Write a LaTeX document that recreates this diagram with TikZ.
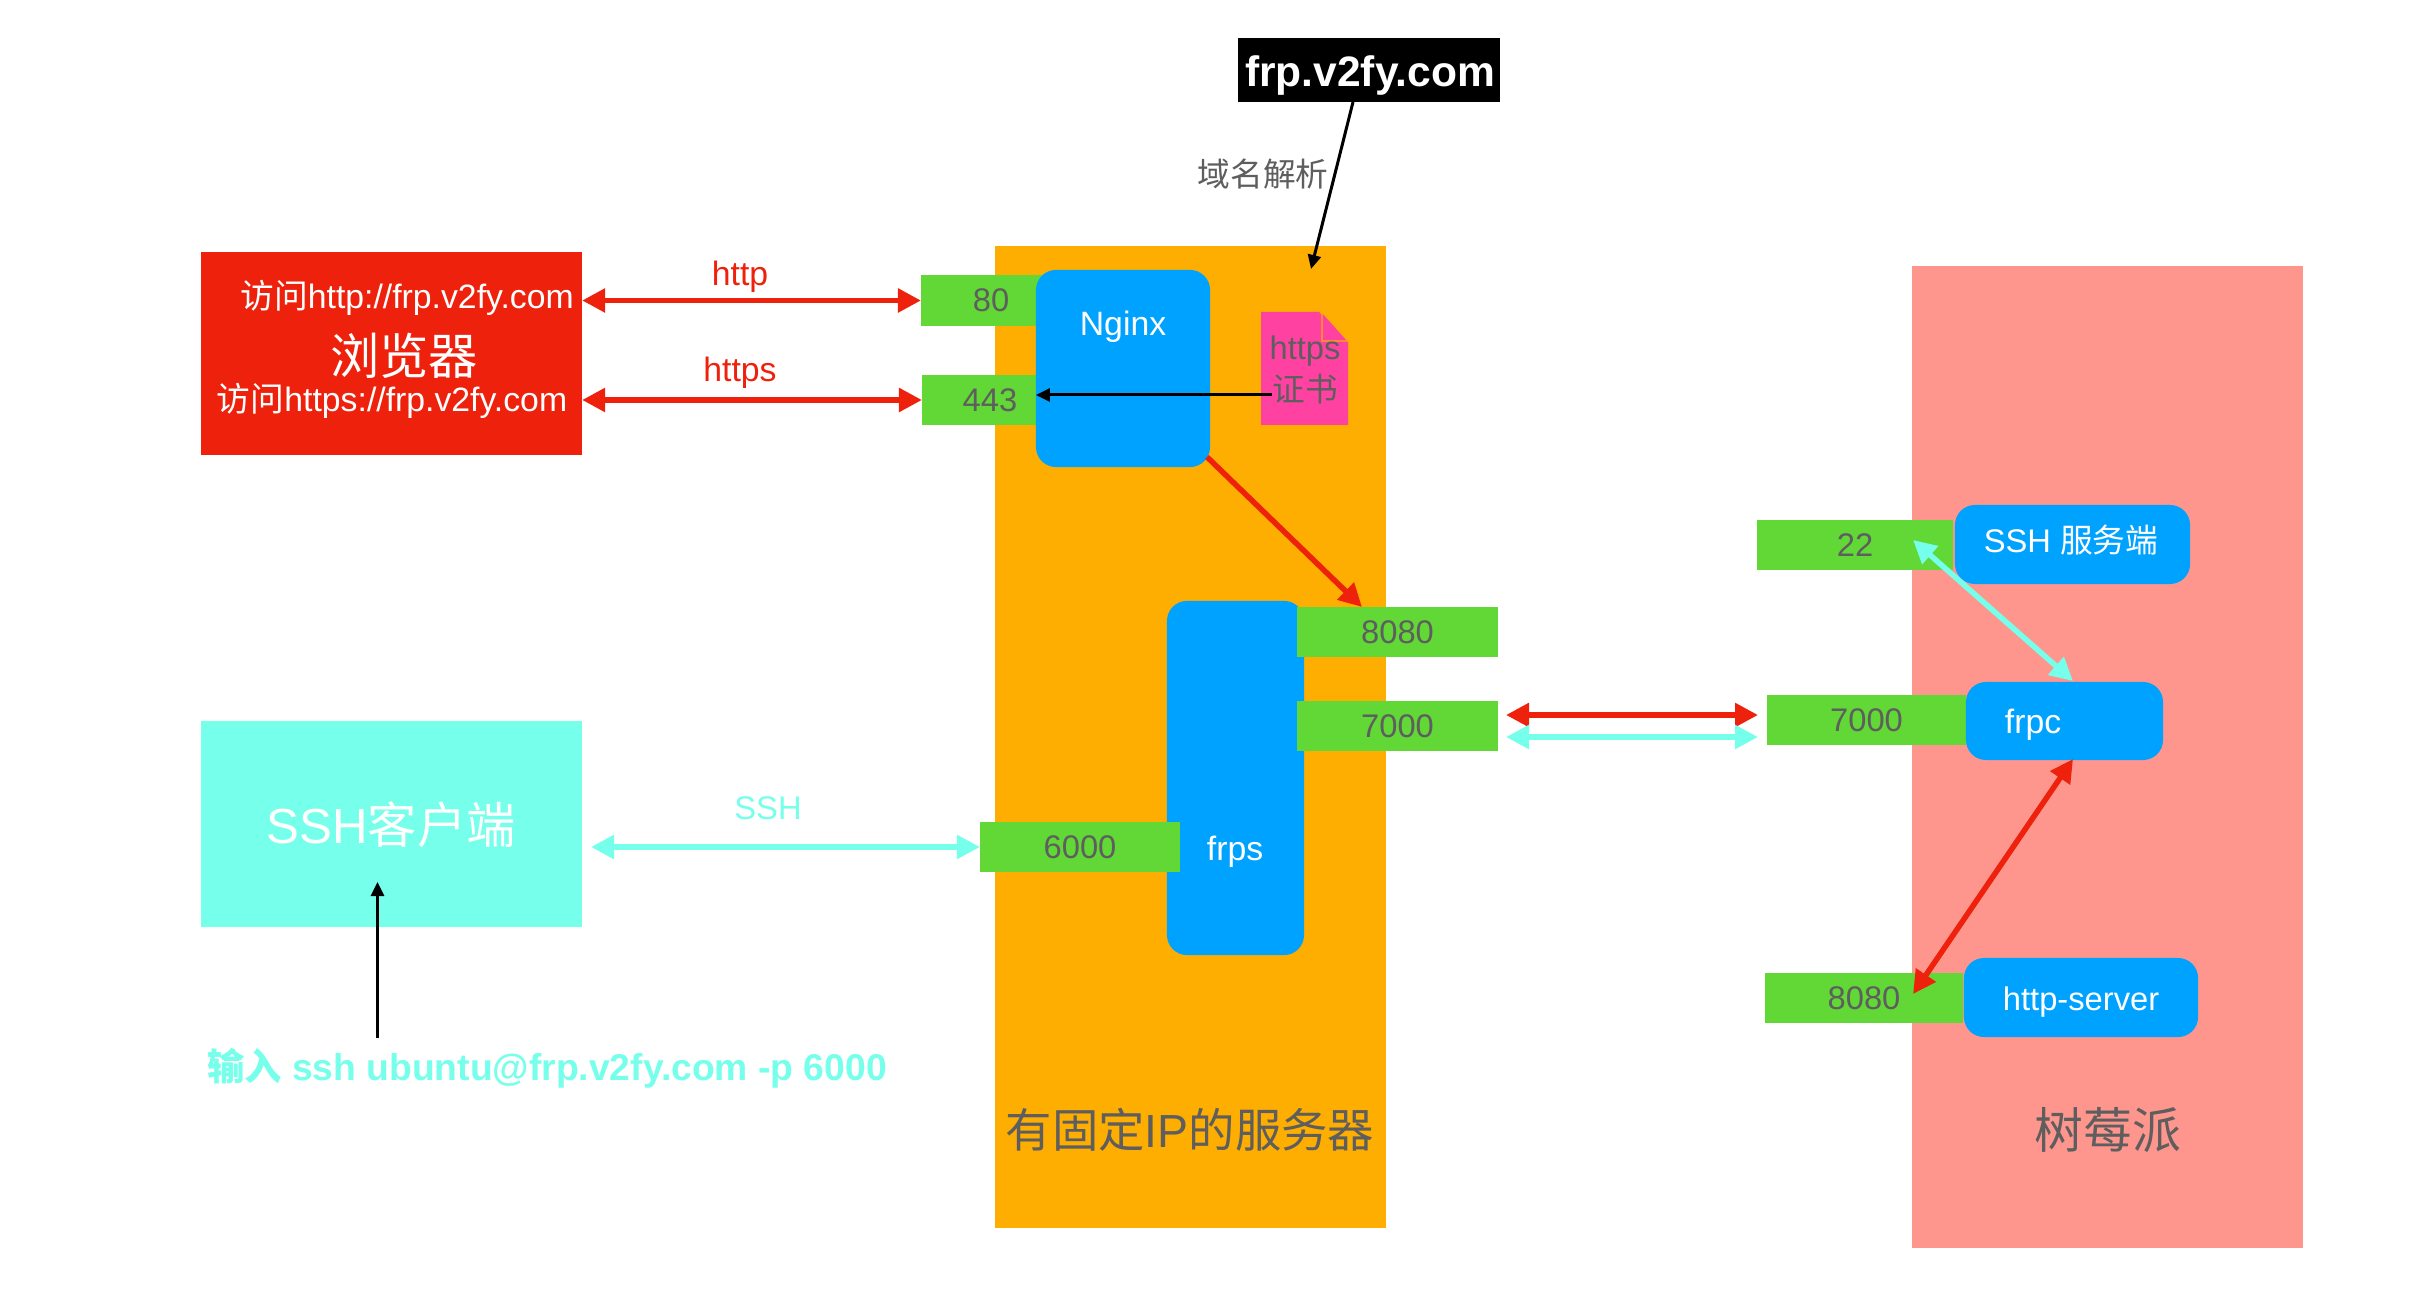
\documentclass[tikz,border=0pt]{standalone}
\usepackage{fontspec}
\usepackage{tikz}
\usetikzlibrary{arrows.meta}
\setmainfont{Liberation Sans}
\newfontfamily\cjk{Noto Sans CJK SC}

\definecolor{boxred}{HTML}{EE220C}
\definecolor{boxcyan}{HTML}{76FFEA}
\definecolor{boxorange}{HTML}{FEAE00}
\definecolor{boxsalmon}{HTML}{FF968D}
\definecolor{boxblue}{HTML}{00A2FF}
\definecolor{portgreen}{HTML}{61D836}
\definecolor{docpink}{HTML}{FF42A1}
\definecolor{txtgray}{HTML}{5E5E5E}

\tikzset{
  plain/.style={inner sep=0pt, outer sep=0pt},
  areabox/.style={plain, rectangle},
  portbox/.style={plain, fill=portgreen, text=txtgray, minimum height=0.5cm,
    font=\fontsize{9.3}{11}\selectfont},
  bluebox/.style={plain, fill=boxblue, rounded corners=0.2cm},
  whitetxt/.style={plain, text=white, font=\fontsize{9.6}{11}\selectfont},
  graytxt/.style={plain, text=txtgray, font=\fontsize{9.3}{11}\selectfont},
  bigtxt/.style={plain, text=txtgray, font=\fontsize{13.5}{15}\selectfont},
  redline/.style={boxred, line width=0.055cm, {Triangle[length=0.23cm,width=0.23cm]}-{Triangle[length=0.23cm,width=0.23cm]}},
  cyanline/.style={boxcyan, line width=0.055cm, {Triangle[length=0.23cm,width=0.23cm]}-{Triangle[length=0.23cm,width=0.23cm]}},
  blackline/.style={black, line width=0.03cm, -{Triangle[length=0.14cm,width=0.13cm]}},
}

\begin{document}
\begin{tikzpicture}[x=0.01cm, y=-0.01cm]
    \useasboundingbox (0, 0) rectangle (2428, 1298);

    % the two machines
    \node[areabox, fill=boxorange, minimum width=3.91cm, minimum height=9.82cm] (server) at (1190.5, 737) {};
    \node[areabox, fill=boxsalmon, minimum width=3.91cm, minimum height=9.82cm] (raspi) at (2107.5, 757) {};
    \node[bigtxt, font=\fontsize{13.2}{15}\selectfont] (serverlabel) at (1190, 1130) {{\cjk 有固定}IP{\cjk 的服务器}};
    \node[bigtxt, font=\fontsize{13.9}{15}\selectfont] (raspilabel) at (2108, 1130) {\cjk 树莓派};

    % browser and ssh client
    \node[areabox, fill=boxred, minimum width=3.81cm, minimum height=2.03cm] (browser) at (391.5, 353.5) {};
    \node[whitetxt] (visithttp) at (407, 298) {{\cjk 访问}http://frp.v2fy.com};
    \node[whitetxt, font=\fontsize{14}{15}\selectfont] (browserlabel) at (404, 356) {\cjk 浏览器};
    \node[whitetxt] (visithttps) at (392, 401) {{\cjk 访问}https://frp.v2fy.com};
    \node[areabox, fill=boxcyan, minimum width=3.81cm, minimum height=2.05cm] (client) at (391.5, 824) {};
    \node[whitetxt, font=\fontsize{14}{15}\selectfont] (clientlabel) at (391, 825) {SSH{\cjk 客户端}};
    \node[plain, text=boxcyan, font=\fontsize{10.6}{12}\selectfont\bfseries] (sshinput) at (547, 1068) {{\cjk 输入} ssh ubuntu@frp.v2fy.com -p 6000};

    % domain
    \node[areabox, fill=black, minimum width=2.62cm, minimum height=0.63cm] (domain) at (1369, 70) {};
    \node[plain, text=white, font=\fontsize{12.1}{13}\selectfont\bfseries] (domaintext) at (1370, 76) {frp.v2fy.com};
    \node[graytxt] (resolve) at (1263, 174) {\cjk 域名解析};

    % server side
    \node[bluebox, minimum width=1.37cm, minimum height=3.54cm] (frps) at (1235.5, 778) {};
    \node[portbox, minimum width=1.40cm] (port80) at (991, 300.5) {80};
    \node[portbox, minimum width=1.36cm] (port443) at (990, 400) {443};
    \node[bluebox, minimum width=1.74cm, minimum height=1.97cm] (nginx) at (1123, 368.5) {};
    \node[whitetxt] (nginxlabel) at (1123, 327) {Nginx};
    \node[whitetxt] (frpslabel) at (1235, 852) {frps};
    \node[portbox, minimum width=2cm] (port8080) at (1397.5, 632) {8080};
    \node[portbox, minimum width=2cm] (port7000) at (1397.5, 726) {7000};
    \node[portbox, minimum width=2cm] (port6000) at (1080, 847) {6000};

    % certificate
    \fill[docpink] (1261, 312) -- (1319, 312) -- (1348, 342) -- (1348, 425) -- (1261, 425) -- cycle;
    \fill[docpink, draw=boxorange, line width=0.012cm] (1322, 312) -- (1348, 341) -- (1322, 341) -- cycle;
    \node[graytxt] (certhttps) at (1305, 351) {https};
    \node[graytxt] (certlabel) at (1305, 389) {\cjk 证书};

    % raspberry pi side
    \node[portbox, minimum width=1.96cm] (port22) at (1855, 545) {22};
    \node[portbox, minimum width=1.99cm] (port7000b) at (1866.5, 720) {7000};
    \node[portbox, minimum width=1.98cm] (port8080b) at (1864, 998) {8080};
    \node[bluebox, minimum width=2.35cm, minimum height=0.79cm] (sshd) at (2072.5, 544.5) {};
    \node[whitetxt, font=\fontsize{9.3}{11}\selectfont] (sshdlabel) at (2071, 540) {SSH {\cjk 服务端}};
    \node[bluebox, minimum width=1.97cm, minimum height=0.78cm] (frpc) at (2064.5, 721) {};
    \node[whitetxt] (frpclabel) at (2033, 725) {frpc};
    \node[bluebox, minimum width=2.34cm, minimum height=0.79cm] (httpserver) at (2081, 997.5) {};
    \node[whitetxt, font=\fontsize{9.3}{11}\selectfont] (httplabel2) at (2081, 1002) {http-server};

    % free ends of the connectors
    \coordinate (nginxout) at (1207, 457);
    \coordinate (redtip) at (1362, 607);
    \coordinate (linkleftred) at (1506, 715);
    \coordinate (linkrightred) at (1758, 715);
    \coordinate (linkleftcyan) at (1506, 737);
    \coordinate (linkrightcyan) at (1758, 737);
    \coordinate (sshtip) at (1913, 540);
    \coordinate (frpctop) at (2073, 681);
    \coordinate (frpcbottom) at (2073, 759);
    \coordinate (httptip) at (1913, 994);
    \coordinate (domainout) at (1353, 102);
    \coordinate (domaintip) at (1311, 269);
    \coordinate (certout) at (1272, 395);
    \coordinate (clientin) at (377.5, 882);
    \coordinate (inputout) at (377.5, 1038);
    \coordinate (clientout) at (591, 847);

    \draw[redline] (browser.east |- port80) -- (port80.west);
    \draw[redline] (browser.east |- port443) -- (port443.west);
    \node[plain, text=boxred, font=\fontsize{9.6}{11}\selectfont] (httplabel) at (740, 277) {http};
    \node[plain, text=boxred, font=\fontsize{9.6}{11}\selectfont] (httpslabel) at (740, 373) {https};
    \draw[cyanline] (clientout) -- (port6000.west);
    \node[plain, text=boxcyan, font=\fontsize{9.3}{11}\selectfont] (sshlabel) at (768, 808) {SSH};

    \draw[boxred, line width=0.055cm, -{Triangle[length=0.23cm,width=0.23cm]}] (nginxout) -- (redtip);
    \draw[redline] (linkleftred) -- (linkrightred);
    \draw[cyanline] (linkleftcyan) -- (linkrightcyan);
    \draw[cyanline] (sshtip) -- (frpctop);
    \draw[redline] (frpcbottom) -- (httptip);

    \draw[blackline] (domainout) -- (domaintip);
    \draw[blackline] (certout) -- (nginx.west |- certout);
    \draw[blackline] (inputout) -- (clientin);
\end{tikzpicture}
\end{document}
